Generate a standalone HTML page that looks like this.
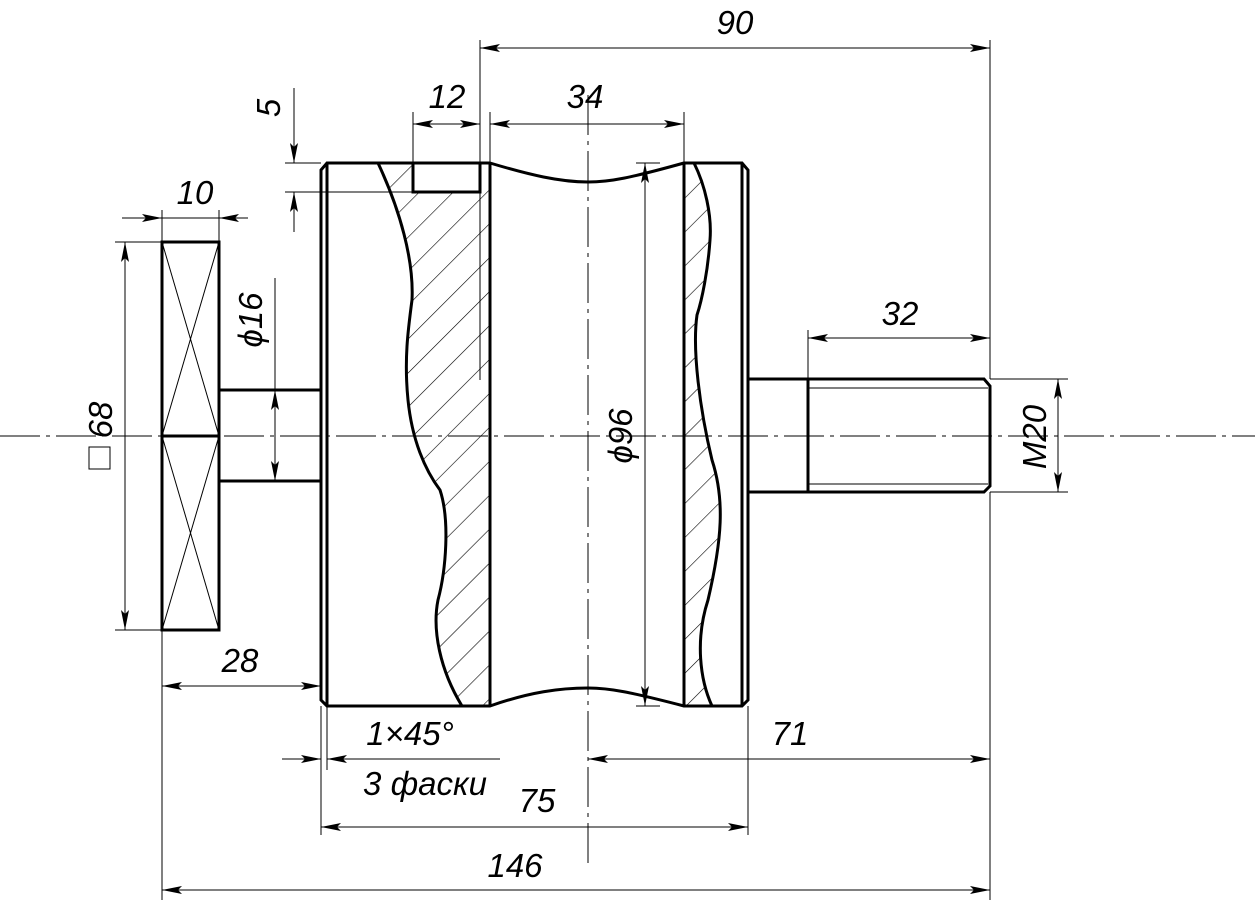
<!DOCTYPE html>
<html><head><meta charset="utf-8"><style>
html,body{margin:0;padding:0;background:#fff;}
svg{display:block;}
text{font-family:"Liberation Sans",sans-serif;font-style:italic;font-size:33px;fill:#000;}
</style></head><body>
<svg width="1255" height="906" viewBox="0 0 1255 906" xmlns="http://www.w3.org/2000/svg">
<defs>
<marker id="a" viewBox="0 0 20 8" refX="20" refY="4" markerWidth="20" markerHeight="8" markerUnits="userSpaceOnUse" orient="auto-start-reverse"><path d="M0,0 L20,4 L0,8 L4,4 Z" fill="#000"/></marker>
<pattern id="h" patternUnits="userSpaceOnUse" width="24" height="24" patternTransform="rotate(45)"><line x1="0" y1="0" x2="0" y2="24" stroke="#000" stroke-width="1.2"/></pattern>
</defs>
<g fill="none" stroke="#000">
<line x1="0" y1="436" x2="1255" y2="436" stroke-width="1" stroke-dasharray="40,6,4,6"/>
<line x1="588" y1="95" x2="588" y2="865" stroke-width="1" stroke-dasharray="40,6,4,6"/>

<path d="M378,163 C400,210 414,260 412,300 C408,330 404,360 408,400 C412,440 425,470 440,490 C450,520 446,570 438,600 C432,630 440,670 462,706 L490,706 L490,163 Z" fill="url(#h)" stroke="none"/>
<path d="M684,163 L694,163 C705,185 712,215 710,240 C708,270 702,300 697,315 C692,350 700,410 712,460 C725,500 722,540 708,600 C695,640 700,680 712,706 L684,706 Z" fill="url(#h)" stroke="none"/>
<rect x="413" y="163" width="67" height="29" fill="#fff" stroke="none"/>

<g stroke-width="3">
<rect x="162" y="242" width="57" height="388"/>
<line x1="162" y1="436" x2="219" y2="436"/>
<polyline points="219,390 321,390"/>
<polyline points="219,481 321,481"/>
<path d="M321,170 L327,163 L490,163 C530,175 560,182 588,182 C610,182 630,178 684,163 L742,163 L748,170 L748,700 L742,706 L684,706 C630,692 610,688 588,688 C560,688 530,692 490,706 L327,706 L321,700 Z"/>
<line x1="327" y1="163" x2="327" y2="706"/>
<line x1="742" y1="163" x2="742" y2="706"/>
<line x1="490" y1="163" x2="490" y2="706"/>
<line x1="684" y1="163" x2="684" y2="706"/>
<rect x="413" y="163" width="67" height="29"/>
<path d="M378,163 C400,210 414,260 412,300 C408,330 404,360 408,400 C412,440 425,470 440,490 C450,520 446,570 438,600 C432,630 440,670 462,706"/>
<path d="M694,163 C705,185 712,215 710,240 C708,270 702,300 697,315 C692,350 700,410 712,460 C725,500 722,540 708,600 C695,640 700,680 712,706"/>
<path d="M748,379 L984,379 L990,386 L990,486 L984,492 L748,492"/>
<line x1="808" y1="379" x2="808" y2="492"/>
</g>
<g stroke-width="1">
<line x1="162" y1="242" x2="219" y2="436"/><line x1="219" y1="242" x2="162" y2="436"/>
<line x1="162" y1="436" x2="219" y2="630"/><line x1="219" y1="436" x2="162" y2="630"/>
<line x1="808" y1="388" x2="988" y2="388"/><line x1="808" y1="484" x2="988" y2="484"/>
<line x1="480" y1="192" x2="480" y2="380"/>
<line x1="480" y1="40" x2="480" y2="163"/>
<line x1="990" y1="40" x2="990" y2="379"/>
<line x1="990" y1="492" x2="990" y2="900"/>
<line x1="413" y1="112" x2="413" y2="163"/>
<line x1="490" y1="112" x2="490" y2="163"/>
<line x1="684" y1="112" x2="684" y2="163"/>
<line x1="285" y1="163" x2="321" y2="163"/>
<line x1="285" y1="192" x2="413" y2="192"/>
<line x1="162" y1="210" x2="162" y2="242"/>
<line x1="219" y1="210" x2="219" y2="242"/>
<line x1="115" y1="242" x2="162" y2="242"/>
<line x1="115" y1="630" x2="162" y2="630"/>
<line x1="275" y1="278" x2="275" y2="390"/>
<line x1="636" y1="163" x2="660" y2="163"/>
<line x1="636" y1="706" x2="660" y2="706"/>
<line x1="808" y1="330" x2="808" y2="379"/>
<line x1="990" y1="379" x2="1068" y2="379"/>
<line x1="990" y1="492" x2="1068" y2="492"/>
<line x1="162" y1="630" x2="162" y2="900"/>
<line x1="321" y1="706" x2="321" y2="835"/>
<line x1="327" y1="706" x2="327" y2="770"/>
<line x1="748" y1="706" x2="748" y2="835"/>
<line x1="480" y1="48" x2="990" y2="48" marker-start="url(#a)" marker-end="url(#a)"/>
<line x1="413" y1="124" x2="480" y2="124" marker-start="url(#a)" marker-end="url(#a)"/>
<line x1="490" y1="124" x2="684" y2="124" marker-start="url(#a)" marker-end="url(#a)"/>
<line x1="294" y1="88" x2="294" y2="163" marker-end="url(#a)"/>
<line x1="294" y1="232" x2="294" y2="192" marker-end="url(#a)"/>
<line x1="122" y1="218" x2="162" y2="218" marker-end="url(#a)"/>
<line x1="248" y1="218" x2="219" y2="218" marker-end="url(#a)"/>
<line x1="162" y1="218" x2="219" y2="218"/>
<line x1="125" y1="242" x2="125" y2="630" marker-start="url(#a)" marker-end="url(#a)"/>
<line x1="275" y1="390" x2="275" y2="481" marker-start="url(#a)" marker-end="url(#a)"/>
<line x1="645" y1="163" x2="645" y2="706" marker-start="url(#a)" marker-end="url(#a)"/>
<line x1="808" y1="338" x2="990" y2="338" marker-start="url(#a)" marker-end="url(#a)"/>
<line x1="1058" y1="379" x2="1058" y2="492" marker-start="url(#a)" marker-end="url(#a)"/>
<line x1="162" y1="686" x2="321" y2="686" marker-start="url(#a)" marker-end="url(#a)"/>
<line x1="282" y1="759" x2="321" y2="759" marker-end="url(#a)"/>
<line x1="370" y1="759" x2="327" y2="759" marker-end="url(#a)"/>
<line x1="327" y1="759" x2="500" y2="759"/>
<line x1="588" y1="759" x2="990" y2="759" marker-start="url(#a)" marker-end="url(#a)"/>
<line x1="321" y1="827" x2="748" y2="827" marker-start="url(#a)" marker-end="url(#a)"/>
<line x1="162" y1="890" x2="990" y2="890" marker-start="url(#a)" marker-end="url(#a)"/>
<rect x="89" y="447" width="21" height="22"/>
</g>
</g>
<text x="735" y="34" text-anchor="middle">90</text>
<text x="447" y="108" text-anchor="middle">12</text>
<text x="585" y="108" text-anchor="middle">34</text>
<text x="195" y="204" text-anchor="middle">10</text>
<text x="900" y="325" text-anchor="middle">32</text>
<text x="240" y="672" text-anchor="middle">28</text>
<text x="410" y="745" text-anchor="middle">1×45°</text>
<text x="425" y="795" text-anchor="middle">3 фаски</text>
<text x="790" y="745" text-anchor="middle">71</text>
<text x="537" y="812" text-anchor="middle">75</text>
<text x="515" y="877" text-anchor="middle">146</text>
<text transform="translate(280,108) rotate(-90)" text-anchor="middle">5</text>
<text transform="translate(112,420) rotate(-90)" text-anchor="middle">68</text>
<text transform="translate(262,320) rotate(-90)" text-anchor="middle">ϕ16</text>
<text transform="translate(632,436) rotate(-90)" text-anchor="middle">ϕ96</text>
<text transform="translate(1046,437) rotate(-90)" text-anchor="middle">M20</text>
</svg>
</body></html>
